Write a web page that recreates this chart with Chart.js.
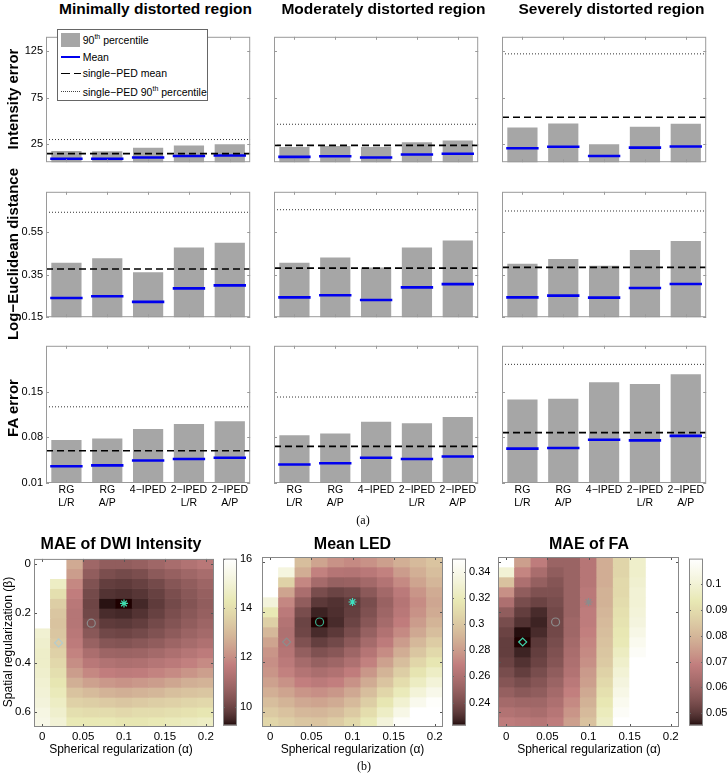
<!DOCTYPE html>
<html><head><meta charset="utf-8">
<script src="https://cdn.jsdelivr.net/npm/chart.js@4.4.1/dist/chart.umd.min.js"></script>
<style>
html,body{margin:0;padding:0;background:#fff;}
body{width:727px;height:775px;position:relative;overflow:hidden;font-family:"Liberation Sans",Arial,sans-serif;color:#000;}
canvas{position:absolute;}
.t{position:absolute;white-space:nowrap;line-height:1;}
.sw{position:absolute;}
</style></head><body>
<script>
// ---------------- DATA ----------------
const categories = [['RG','L/R'], ['RG','A/P'], '4−IPED', ['2−IPED','L/R'], ['2−IPED','A/P']];
const regionTitles = ['Minimally distorted region', 'Moderately distorted region', 'Severely distorted region'];
const metricTitles = ['Intensity error', 'Log−Euclidean distance', 'FA error'];

// rows: minimally, moderately, severely distorted region
const intensityP90  = [[17.8, 17.5, 21.4, 23.8, 25.0], [22.0, 23.2, 22.0, 27.1, 29.2], [43.0, 47.4, 25.0, 43.9, 47.1]];
const intensityMean = [[9.5, 9.5, 10.9, 12.4, 13.0], [11.5, 12.2, 10.9, 14.0, 14.9], [20.8, 22.3, 12.4, 21.4, 22.6]];
const intensitySpedMean = [15.1, 23.8, 54.0];
const intensitySpedP90  = [30.1, 46.5, 122.0];

const ledP90  = [[0.405, 0.426, 0.361, 0.477, 0.499], [0.405, 0.430, 0.383, 0.477, 0.510], [0.401, 0.423, 0.391, 0.465, 0.507]];
const ledMean = [[0.240, 0.248, 0.222, 0.285, 0.299], [0.243, 0.253, 0.231, 0.290, 0.305], [0.243, 0.251, 0.242, 0.287, 0.306]];
const ledSpedMean = [0.376, 0.380, 0.384];
const ledSpedP90  = [0.642, 0.654, 0.648];

const faP90  = [[0.0758, 0.078, 0.0926, 0.1004, 0.1046], [0.0832, 0.0856, 0.1038, 0.1014, 0.1112], [0.1378, 0.1388, 0.1644, 0.1616, 0.1766]];
const faMean = [[0.0356, 0.037, 0.0445, 0.0468, 0.0487], [0.0384, 0.0403, 0.0487, 0.0468, 0.0506], [0.0626, 0.0636, 0.0762, 0.0753, 0.0822]];
const faSpedMean = [0.0594, 0.066, 0.087];
const faSpedP90  = [0.1266, 0.1416, 0.1916];

const intensityTicks = [25, 75, 125];
const ledTicks = [0.15, 0.35, 0.55];
const faTicks = [0.01, 0.08, 0.15];

// heatmaps
const heatmapTitles = ['MAE of DWI Intensity', 'Mean LED', 'MAE of FA'];
const alphaValues = [0, 0.02, 0.04, 0.06, 0.08, 0.1, 0.12, 0.14, 0.16, 0.18, 0.2];
const betaValues = [0, 0.04, 0.08, 0.12, 0.16, 0.2, 0.24, 0.28, 0.32, 0.36, 0.4, 0.44, 0.48, 0.52, 0.56, 0.6, 0.64];
const alphaTicks = [0, 0.05, 0.1, 0.15, 0.2];
const betaTicks = [0, 0.2, 0.4, 0.6];

const dwiMAE = [
  [16.5, 16.3, 12.6, 10.9, 10.6, 10.6, 10.7, 10.9, 11.1, 11.3, 11.5],
  [16.5, 16.1, 12.3, 10.6, 10.2, 10.1, 10.2, 10.5, 10.7, 10.9, 11.1],
  [16.4, 14.6, 11.9, 10.3, 9.85, 9.8, 9.9, 10.1, 10.4, 10.6, 10.85],
  [16.3, 14.0, 11.7, 10.1, 9.65, 9.6, 9.7, 9.9, 10.2, 10.45, 10.7],
  [16.2, 13.5, 11.5, 10.0, 9.3, 9.25, 9.5, 9.8, 10.1, 10.35, 10.6],
  [16.2, 13.3, 11.4, 10.05, 9.55, 9.5, 9.65, 9.9, 10.2, 10.45, 10.7],
  [16.1, 13.2, 11.4, 10.2, 9.8, 9.75, 9.85, 10.1, 10.35, 10.6, 10.85],
  [14.9, 13.3, 11.5, 10.45, 10.05, 10.0, 10.1, 10.3, 10.55, 10.8, 11.0],
  [14.8, 13.4, 11.6, 10.75, 10.4, 10.35, 10.45, 10.6, 10.85, 11.05, 11.25],
  [14.7, 13.6, 11.8, 11.15, 10.85, 10.8, 10.85, 11.0, 11.2, 11.4, 11.6],
  [14.7, 13.8, 12.0, 11.5, 11.3, 11.2, 11.25, 11.4, 11.55, 11.75, 11.95],
  [14.8, 14.0, 12.3, 11.9, 11.7, 11.6, 11.65, 11.8, 11.95, 12.15, 12.35],
  [14.9, 14.2, 12.7, 12.4, 12.2, 12.1, 12.2, 12.3, 12.5, 12.7, 12.8],
  [15.0, 14.4, 13.2, 13.0, 12.8, 12.7, 12.8, 12.9, 13.1, 13.2, 13.3],
  [15.1, 14.6, 13.6, 13.5, 13.4, 13.3, 13.4, 13.5, 13.6, 13.7, 13.8],
  [15.3, 14.8, 14.0, 13.9, 13.9, 13.8, 13.9, 13.9, 14.0, 14.1, 14.2],
  [15.4, 15.0, 14.3, 14.3, 14.3, 14.2, 14.2, 14.3, 14.4, 14.5, 14.6]
];
const meanLED = [
  [0.36, 0.36, 0.295, 0.283, 0.276, 0.273, 0.276, 0.281, 0.288, 0.293, 0.298],
  [0.36, 0.335, 0.287, 0.27, 0.263, 0.262, 0.265, 0.27, 0.28, 0.288, 0.295],
  [0.358, 0.305, 0.272, 0.256, 0.25, 0.251, 0.255, 0.262, 0.273, 0.283, 0.291],
  [0.352, 0.283, 0.258, 0.24, 0.236, 0.238, 0.246, 0.255, 0.266, 0.277, 0.286],
  [0.333, 0.272, 0.248, 0.232, 0.23, 0.233, 0.24, 0.251, 0.263, 0.274, 0.284],
  [0.318, 0.266, 0.24, 0.226, 0.229, 0.234, 0.242, 0.253, 0.265, 0.276, 0.286],
  [0.304, 0.262, 0.236, 0.2225, 0.228, 0.236, 0.245, 0.256, 0.268, 0.28, 0.29],
  [0.292, 0.26, 0.237, 0.228, 0.232, 0.24, 0.25, 0.261, 0.273, 0.285, 0.295],
  [0.283, 0.261, 0.242, 0.234, 0.238, 0.246, 0.256, 0.267, 0.28, 0.292, 0.302],
  [0.277, 0.263, 0.249, 0.242, 0.245, 0.253, 0.263, 0.274, 0.287, 0.299, 0.309],
  [0.275, 0.266, 0.256, 0.25, 0.253, 0.26, 0.27, 0.282, 0.295, 0.307, 0.316],
  [0.277, 0.27, 0.262, 0.258, 0.261, 0.268, 0.278, 0.29, 0.303, 0.315, 0.324],
  [0.282, 0.276, 0.269, 0.266, 0.269, 0.276, 0.286, 0.298, 0.311, 0.323, 0.332],
  [0.288, 0.283, 0.277, 0.275, 0.278, 0.285, 0.295, 0.307, 0.32, 0.332, 0.34],
  [0.295, 0.29, 0.285, 0.283, 0.286, 0.293, 0.303, 0.316, 0.329, 0.341, 0.348],
  [0.301, 0.297, 0.292, 0.291, 0.294, 0.301, 0.311, 0.324, 0.338, 0.35, 0.355],
  [0.307, 0.303, 0.299, 0.298, 0.302, 0.309, 0.319, 0.333, 0.347, 0.356, 0.36]
];
const faMAE = [
  [0.115, 0.075, 0.068, 0.06, 0.06, 0.066, 0.078, 0.088, 0.098, 0.118, 0.12],
  [0.1, 0.07, 0.063, 0.058, 0.06, 0.066, 0.078, 0.088, 0.098, 0.118, 0.12],
  [0.083, 0.064, 0.059, 0.056, 0.06, 0.066, 0.078, 0.089, 0.099, 0.118, 0.12],
  [0.072, 0.058, 0.055, 0.055, 0.06, 0.067, 0.079, 0.089, 0.1, 0.118, 0.12],
  [0.064, 0.054, 0.052, 0.054, 0.06, 0.067, 0.079, 0.09, 0.1, 0.118, 0.12],
  [0.058, 0.051, 0.048, 0.053, 0.06, 0.068, 0.08, 0.091, 0.101, 0.118, 0.12],
  [0.054, 0.049, 0.047, 0.053, 0.061, 0.068, 0.081, 0.092, 0.102, 0.118, 0.12],
  [0.052, 0.0455, 0.048, 0.053, 0.061, 0.069, 0.082, 0.093, 0.104, 0.118, 0.12],
  [0.051, 0.0452, 0.05, 0.054, 0.062, 0.07, 0.083, 0.094, 0.106, 0.118, 0.12],
  [0.051, 0.047, 0.051, 0.055, 0.063, 0.071, 0.084, 0.096, 0.108, 0.118, 0.12],
  [0.052, 0.049, 0.052, 0.056, 0.064, 0.072, 0.085, 0.098, 0.11, 0.118, 0.12],
  [0.054, 0.051, 0.054, 0.058, 0.065, 0.074, 0.087, 0.1, 0.112, 0.118, 0.12],
  [0.056, 0.054, 0.056, 0.06, 0.067, 0.075, 0.089, 0.102, 0.114, 0.118, 0.12],
  [0.059, 0.057, 0.058, 0.062, 0.069, 0.077, 0.091, 0.104, 0.115, 0.118, 0.12],
  [0.062, 0.061, 0.061, 0.064, 0.071, 0.079, 0.093, 0.106, 0.116, 0.118, 0.12],
  [0.065, 0.064, 0.063, 0.066, 0.073, 0.081, 0.095, 0.108, 0.117, 0.118, 0.12],
  [0.068, 0.067, 0.066, 0.068, 0.075, 0.083, 0.097, 0.11, 0.118, 0.118, 0.12]
];
const dwiColorbarTicks = [10, 12, 14, 16];
const ledColorbarTicks = [0.24, 0.26, 0.28, 0.3, 0.32, 0.34];
const faColorbarTicks = [0.05, 0.06, 0.07, 0.08, 0.09, 0.1];
const markerAlpha = [0.1, 0.06, 0.02];
const markerBeta = [0.16, 0.24, 0.32];

// ---------------- LAYOUT / STYLE ----------------
const FONT = "'Liberation Sans', Arial, sans-serif";
Chart.defaults.font.family = FONT;
Chart.defaults.color = '#000';
const colX = [46, 274, 502], panelW = 219;
const rowY = [24, 179, 333], rowH = [149, 149, 150];
const axisRanges = [[5.8, 140.3], [0.15, 0.738], [0.01, 0.22]];
const hmX = [34, 262, 498], hmW = [180, 181, 181], hmY = 557, hmH = 170;
const cbX = [223, 452, 689], cbW = 14;
const colorRanges = [[9.25, 16], [0.2225, 0.35], [0.0452, 0.11]];
const markerStyles = ['star', 'circle', 'rectRot'];
const markerColors = [['#3fe0b0', '#8c8c8c', '#b4cccc'], ['#3fe0c0', '#3aa888', '#8c8c8c'], ['#8c8c8c', '#8c8c8c', '#3fd0a8']];

const fmt = v => String(+Number(v).toFixed(4));

function pinkRGB(t) {
  t = Math.min(1, Math.max(0, t));
  const i = t * 63 + 1;
  const r = Math.min(1, i / 24);
  const g = Math.min(1, Math.max(0, (i - 24) / 24));
  const b = Math.max(0, (i - 48) / 16);
  const gr = (i - 1) / 63;
  const f = v => Math.round(255 * Math.sqrt((2 * gr + v) / 3));
  return 'rgb(' + f(r) + ',' + f(g) + ',' + f(b) + ')';
}

const framePlugin = {
  id: 'frame',
  afterDatasetsDraw(chart, args, o) {
    if (!o || !o.on) return;
    const ctx = chart.ctx, a = chart.chartArea, L = o.len || 3;
    ctx.save();
    ctx.lineWidth = 1;
    ctx.strokeStyle = o.tickColor || o.color;
    ctx.beginPath();
    (o.xScales || []).forEach(id => {
      const s = chart.scales[id];
      s.ticks.forEach((t, i) => {
        const p = Math.round(s.getPixelForTick(i)) + 0.5;
        ctx.moveTo(p, a.top); ctx.lineTo(p, a.top + L);
        ctx.moveTo(p, a.bottom); ctx.lineTo(p, a.bottom - L);
      });
    });
    (o.yScales || []).forEach(id => {
      const s = chart.scales[id];
      s.ticks.forEach((t, i) => {
        const p = Math.round(s.getPixelForTick(i)) + 0.5;
        ctx.moveTo(a.left, p); ctx.lineTo(a.left + L, p);
        ctx.moveTo(a.right, p); ctx.lineTo(a.right - L, p);
      });
    });
    ctx.stroke();
    ctx.strokeStyle = o.color;
    ctx.strokeRect(a.left + 0.5, a.top + 0.5, a.width - 1, a.height - 1);
    ctx.restore();
  }
};
Chart.register(framePlugin);

function makeCanvas(left, top, w, h) {
  const c = document.createElement('canvas');
  c.width = w; c.height = h;
  c.style.left = left + 'px'; c.style.top = top + 'px';
  c.style.width = w + 'px'; c.style.height = h + 'px';
  document.body.appendChild(c);
  return c;
}
function addText(html, x, y, size, opts) {
  opts = opts || {};
  const d = document.createElement('div');
  d.className = 't';
  d.innerHTML = html;
  d.style.left = x + 'px'; d.style.top = y + 'px';
  d.style.fontSize = size + 'px';
  if (opts.bold) d.style.fontWeight = 'bold';
  if (opts.family) d.style.fontFamily = opts.family;
  d.style.transform = 'translate(-50%,-50%)' + (opts.rot ? ' rotate(-90deg)' : '');
  document.body.appendChild(d);
}

// ---------------- BAR PANELS ----------------
const metricSets = [
  {p90: intensityP90, mean: intensityMean, sMean: intensitySpedMean, sP90: intensitySpedP90, ticks: intensityTicks},
  {p90: ledP90, mean: ledMean, sMean: ledSpedMean, sP90: ledSpedP90, ticks: ledTicks},
  {p90: faP90, mean: faMean, sMean: faSpedMean, sP90: faSpedP90, ticks: faTicks}
];

metricSets.forEach((m, r) => {
  regionTitles.forEach((title, c) => {
    const isBottom = r === 2;
    const mL = 40, mR = 4, mT = 6, mB = isBottom ? 34 : 8;
    const cv = makeCanvas(colX[c] - mL, rowY[r] - mT, panelW + mL + mR, rowH[r] + mT + mB);
    new Chart(cv, {
      type: 'bar',
      data: {
        labels: categories,
        datasets: [
          {type: 'bar', label: '90th percentile', xAxisID: 'x', data: m.p90[c], backgroundColor: '#a6a6a6', borderWidth: 0,
           grouped: false, barPercentage: 0.74, categoryPercentage: 1, order: 2},
          {type: 'line', label: 'Mean', xAxisID: 'xm', data: m.mean[c], showLine: false,
           pointStyle: 'line', pointRadius: 16.2, pointBorderWidth: 2.6, pointBorderColor: '#0000ee', pointBackgroundColor: '#0000ee', order: 1},
          {type: 'line', label: 'single-PED 90th percentile', xAxisID: 'xl', data: [{x: 0, y: m.sP90[c]}, {x: 1, y: m.sP90[c]}],
           borderColor: '#333', borderWidth: 1, borderDash: [1, 2], pointRadius: 0, fill: false, order: 0},
          {type: 'line', label: 'single-PED mean', xAxisID: 'xl', data: [{x: 0, y: m.sMean[c]}, {x: 1, y: m.sMean[c]}],
           borderColor: '#000', borderWidth: 1.7, borderDash: [7, 4], pointRadius: 0, fill: false, order: 0}
        ]
      },
      options: {
        responsive: false, animation: false, events: [],
        layout: {padding: {top: mT, right: mR, left: 0, bottom: 0}},
        plugins: {legend: {display: false}, tooltip: {enabled: false},
          frame: {on: true, xScales: ['x'], yScales: ['y'], color: '#9a9a9a', tickColor: '#9a9a9a', len: 3}},
        scales: {
          x: {type: 'category', offset: true, grid: {display: false, drawTicks: false}, border: {display: false},
              ticks: {display: isBottom, font: {size: 10.5}, padding: 1, maxRotation: 0, minRotation: 0, autoSkip: false},
              afterFit: s => { s.height = mB; }},
          xm: {type: 'category', display: false, offset: true, labels: categories},
          xl: {type: 'linear', display: false, offset: false, grid: {offset: false}, bounds: 'data', min: 0, max: 1},
          y: {type: 'linear', stacked: false, min: axisRanges[r][0], max: axisRanges[r][1], grid: {display: false, drawTicks: false}, border: {display: false},
              ticks: {display: c === 0, font: {size: 11}, padding: 3, callback: fmt},
              afterBuildTicks: s => { s.ticks = m.ticks.map(v => ({value: v})); },
              afterFit: s => { s.width = mL; }}
        }
      }
    });
  });
});

// ---------------- HEATMAPS ----------------
const heatSets = [
  {grid: dwiMAE, cticks: dwiColorbarTicks},
  {grid: meanLED, cticks: ledColorbarTicks},
  {grid: faMAE, cticks: faColorbarTicks}
];
heatSets.forEach((h, k) => {
  const crange = colorRanges[k];
  const mL = k === 0 ? 34 : 6, mR = 6, mT = 8, mB = 24;
  const cv = makeCanvas(hmX[k] - mL, hmY - mT, hmW[k] + mL + mR, hmH + mT + mB);
  const half = (betaValues[1] - betaValues[0]) / 2;
  const cellSets = betaValues.map((b, r) => ({
    type: 'bar', xAxisID: 'x', yAxisID: 'y', data: alphaValues.map(() => [b - half, b + half]),
    backgroundColor: h.grid[r].map(v => pinkRGB((v - crange[0]) / (crange[1] - crange[0]))),
    borderWidth: 0, grouped: false, barPercentage: 1, categoryPercentage: 1, order: 2
  }));
  const markerSets = markerAlpha.map((a, j) => ({
    type: 'scatter', xAxisID: 'x2', yAxisID: 'y', data: [{x: a, y: markerBeta[j]}],
    pointStyle: markerStyles[j], pointRadius: 4, pointBorderWidth: 1.2,
    pointBorderColor: markerColors[k][j], pointBackgroundColor: 'rgba(0,0,0,0)', order: 0
  }));
  new Chart(cv, {
    type: 'bar',
    data: {labels: alphaValues, datasets: cellSets.concat(markerSets)},
    options: {
      responsive: false, animation: false, events: [],
      layout: {padding: {top: mT, right: mR, left: 0, bottom: 0}},
      plugins: {legend: {display: false}, tooltip: {enabled: false},
        frame: {on: true, xScales: ['x2'], yScales: ['y'], color: '#888', tickColor: '#555', len: 3}},
      scales: {
        x: {type: 'category', display: false, offset: true},
        x2: {type: 'linear', position: 'bottom', offset: false, bounds: 'data', min: -0.01, max: 0.21,
             grid: {display: false, drawTicks: false, offset: false}, border: {display: false},
             ticks: {font: {size: 11.5}, padding: 2.5, maxRotation: 0, autoSkip: false, callback: fmt},
             afterBuildTicks: s => { s.ticks = alphaTicks.map(v => ({value: v})); },
             afterFit: s => { s.height = mB; }},
        y: {type: 'linear', stacked: false, reverse: true, min: -0.02, max: 0.66, grid: {display: false, drawTicks: false}, border: {display: false},
            ticks: {display: k === 0, font: {size: 11.5}, padding: 3, callback: fmt},
            afterBuildTicks: s => { s.ticks = betaTicks.map(v => ({value: v})); },
            afterFit: s => { s.width = mL; }}
      }
    }
  });

  // colorbar
  const cbm = {l: 2, r: 38, t: 8, b: 8};
  const cb = makeCanvas(cbX[k] - cbm.l, hmY - cbm.t, cbW + cbm.l + cbm.r, hmH + cbm.t + cbm.b);
  new Chart(cb, {
    type: 'bar',
    data: {labels: [''], datasets: [{
      data: [[crange[0], crange[1]]], borderWidth: 0, grouped: false, barPercentage: 1, categoryPercentage: 1,
      backgroundColor: (c) => {
        const ch = c.chart, ys = ch.scales.y;
        if (!ys || !ch.chartArea) return 'rgba(0,0,0,0)';
        const g = ch.ctx.createLinearGradient(0, ys.getPixelForValue(crange[0]), 0, ys.getPixelForValue(crange[1]));
        for (let i = 0; i < 64; i++) g.addColorStop(i / 63, pinkRGB(i / 63));
        return g;
      }
    }]},
    options: {
      responsive: false, animation: false, events: [],
      layout: {padding: {top: cbm.t, bottom: cbm.b, left: cbm.l, right: 0}},
      plugins: {legend: {display: false}, tooltip: {enabled: false},
        frame: {on: true, xScales: [], yScales: ['y'], color: '#888', tickColor: '#666', len: 2}},
      scales: {
        x: {type: 'category', display: false},
        y: {type: 'linear', stacked: false, position: 'right', min: crange[0], max: crange[1], grid: {display: false, drawTicks: false}, border: {display: false},
            ticks: {font: {size: 11}, padding: 3, callback: fmt},
            afterBuildTicks: s => { s.ticks = h.cticks.map(v => ({value: v})); },
            afterFit: s => { s.width = cbm.r; }}
      }
    }
  });
});

// ---------------- TEXT ----------------
const titleCenters = [155.5, 383.5, 611.5];
regionTitles.forEach((t, c) => addText(t, titleCenters[c], 9, 15.5, {bold: true}));
const rowCenters = [98.5, 253.5, 408];
metricTitles.forEach((t, r) => addText(t, 11.5, rowCenters[r], 15, {bold: true, rot: true}));
addText('(a)', 363, 519.5, 12, {family: "'Liberation Serif', 'DejaVu Serif', serif"});

const hmTitleCenters = [121, 352.5, 589];
heatmapTitles.forEach((t, k) => {
  addText(t, hmTitleCenters[k], 543.5, 16, {bold: true});
  addText('Spherical regularization (α)', hmTitleCenters[k], 748.5, 12);
});
addText('Spatial regularization (β)', 7.5, 642, 12, {rot: true});
addText('(b)', 364, 766, 12, {family: "'Liberation Serif', 'DejaVu Serif', serif"});
</script>

<!-- legend (top-left panel) -->
<div style="position:absolute;left:56.5px;top:29px;width:151px;height:72px;border:1px solid #666;background:#fff;box-sizing:border-box;"></div>
<div class="sw" style="left:61px;top:32.5px;width:19px;height:14.5px;background:#a6a6a6;"></div>
<div class="sw" style="left:61px;top:55.8px;width:19px;height:0;border-top:2.6px solid #0000ee;"></div>
<div class="sw" style="left:61px;top:72.5px;width:9px;height:0;border-top:1.6px solid #000;"></div>
<div class="sw" style="left:73.5px;top:72.5px;width:7px;height:0;border-top:1.6px solid #000;"></div>
<div class="sw" style="left:61px;top:91.2px;width:19px;height:0;border-top:1px dotted #444;"></div>
<div class="t" style="left:82.7px;top:40px;font-size:10.5px;transform:translateY(-50%);">90<sup style="font-size:7px;line-height:0;">th</sup> percentile</div>
<div class="t" style="left:82.7px;top:57px;font-size:10.5px;transform:translateY(-50%);">Mean</div>
<div class="t" style="left:82.7px;top:73.3px;font-size:10.5px;transform:translateY(-50%);">single−PED mean</div>
<div class="t" style="left:82.7px;top:91.7px;font-size:10.5px;transform:translateY(-50%);">single−PED 90<sup style="font-size:7px;line-height:0;">th</sup> percentile</div>
</body></html>
